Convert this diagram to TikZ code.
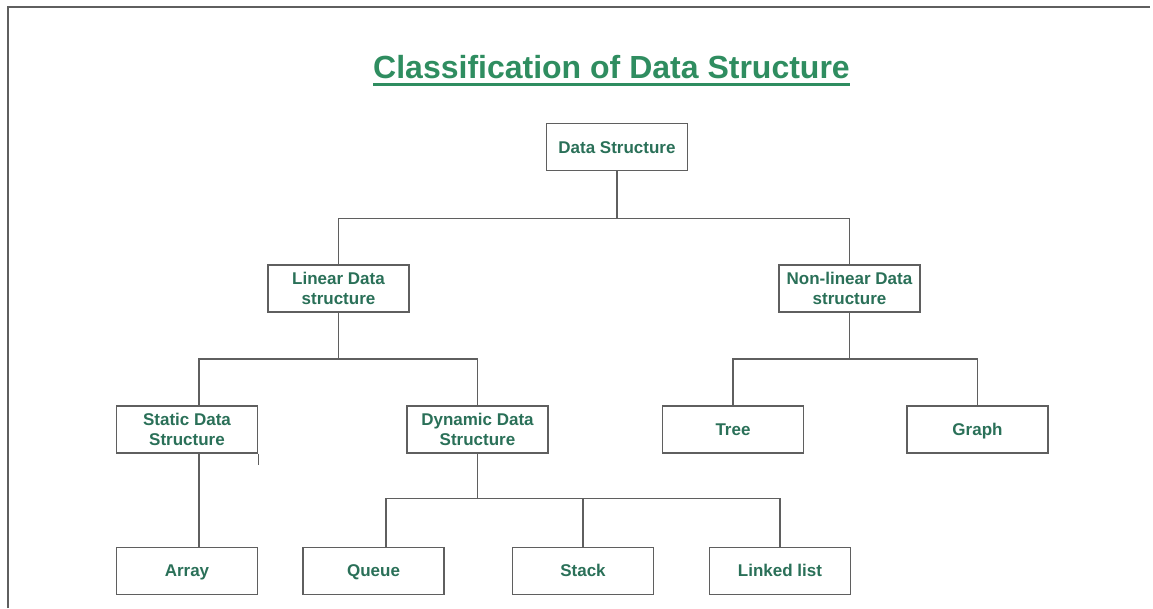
\documentclass[tikz,border=0pt]{standalone}
\usepackage{fontspec}
\setmainfont{Liberation Sans}
\usepackage{tikz}
\usetikzlibrary{positioning}
\definecolor{dsgreen}{RGB}{47,141,96}
\definecolor{dstext}{RGB}{42,112,88}
\definecolor{dsline}{RGB}{95,95,95}
\tikzstyle{box} = [
    rectangle, minimum width=141pt, minimum height=47pt, text centered, align=center,
    draw=dsline, line width=1.6pt, text=dstext, font=\bfseries\fontsize{17}{20}\selectfont]
\tikzstyle{leaf} = [box, text height=12pt, text depth=0pt]
\tikzstyle{link} = [draw=dsline, line width=1.6pt]

\begin{document}
\begin{tikzpicture}[x=1pt, y=-1pt]
\useasboundingbox (0,0) rectangle (1153,608);
\draw [link] (8,608) -- (8,7) -- (1150,7);

\node (title) at (611.5,67) [inner sep=0pt, text=dsgreen, font=\bfseries\fontsize{32}{38}\selectfont] {Classification of Data Structure};
\draw [dsgreen, line width=2.5pt] ([yshift=-6pt]title.base west) -- ([yshift=-6pt]title.base east);

\node (data-structure) [leaf] at (617,147) {Data Structure};

\node (linear) [box, below=93pt of data-structure, xshift=-278.5pt] {Linear Data\\structure};
\node (nonlinear) [box, below=93pt of data-structure, xshift=232.5pt] {Non-linear Data\\structure};

\node (static) [box, below=92pt of linear, xshift=-151.5pt] {Static Data\\Structure};
\node (dynamic) [box, below=92pt of linear, xshift=139pt] {Dynamic Data\\Structure};
\node (tree) [leaf, below=92pt of nonlinear, xshift=-116.5pt] {Tree};
\node (graph) [leaf, below=92pt of nonlinear, xshift=128pt] {Graph};

\node (array) [leaf, below=93pt of static] {Array};
\node (queue) [leaf, below=93pt of dynamic, xshift=-104pt] {Queue};
\node (stack) [leaf, below=93pt of dynamic, xshift=105.5pt] {Stack};
\node (linked-list) [leaf, below=93pt of dynamic, xshift=302.5pt] {Linked list};

\draw [link] (data-structure.south) -- ++(0,47) coordinate (ds-split) -| (linear.north);
\draw [link] (ds-split) -| (nonlinear.north);
\draw [link] (linear.south) -- ++(0,46) coordinate (lin-split) -| ([xshift=12pt]static.north);
\draw [link] (lin-split) -| (dynamic.north);
\draw [link] (nonlinear.south) -- ++(0,46) coordinate (nl-split) -| (tree.north);
\draw [link] (nl-split) -| (graph.north);
\draw [link] ([xshift=12pt]static.south) -- ([xshift=12pt]array.north);
\draw [link] (static.south east) -- ++(0,11);
\draw [link] (dynamic.south) -- ++(0,45) coordinate (dyn-split) -| ([xshift=12.5pt]queue.north);
\draw [link] (dyn-split) -| (stack.north);
\draw [link] (dyn-split) -| (linked-list.north);
\end{tikzpicture}
\end{document}
